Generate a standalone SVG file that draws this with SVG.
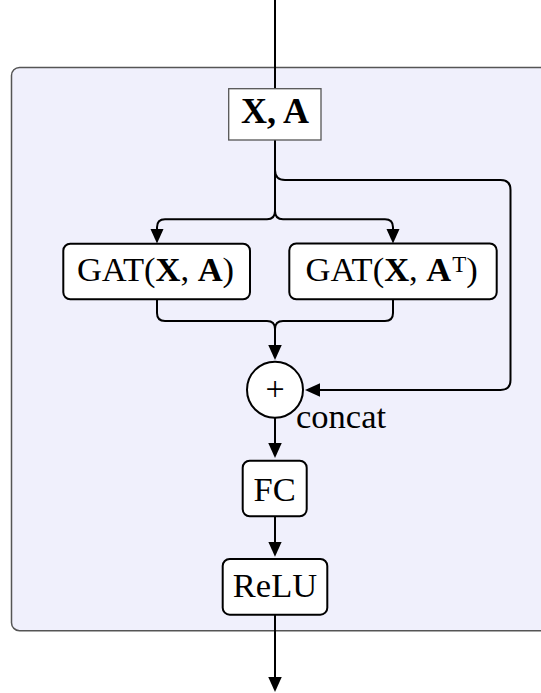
<svg xmlns="http://www.w3.org/2000/svg" width="541" height="693" viewBox="0 0 541 693">
  <style>
    .t { font-family: "Liberation Serif", "Times New Roman", serif; font-size: 34.5px; fill: #000; }
    .b { font-weight: bold; }
    .node { fill: #fff; stroke: #000; stroke-width: 2; }
    .plain { fill: #fff; stroke: #555; stroke-width: 1.3; }
    .wire { fill: none; stroke: #000; stroke-width: 2; }
    .arrow { marker-end: url(#head); }
  </style>
  <defs>
    <marker id="head" markerUnits="userSpaceOnUse" markerWidth="16" markerHeight="14" refX="12" refY="6.75" orient="auto">
      <path d="M0,0 L15,6.75 L0,13.5 z" fill="#000"/>
    </marker>
  </defs>

  <!-- module frame -->
  <rect id="module" x="11.5" y="67.5" width="570" height="563.2" rx="8" fill="#f0f0fc" stroke="#555" stroke-width="1.5"/>

  <g id="connectors">
    <path class="wire" d="M275,0 V88.7"/>
    <path class="wire arrow" d="M275,140 V211 Q275,219.3 267,219.3 H165 Q157,219.3 157,227.3 V240.5"/>
    <path class="wire arrow" d="M275,211 Q275,219.3 283,219.3 H385 Q393,219.3 393,227.3 V240.5"/>
    <path class="wire arrow" d="M275,170 Q275,180 285,180 H500.5 Q510.5,180 510.5,190 V380 Q510.5,390 500.5,390 H308"/>
    <path class="wire arrow" d="M157,299.3 V313 Q157,321 165,321 H267 Q275,321 275,329 V357"/>
    <path class="wire" d="M393,299.3 V313 Q393,321 385,321 H283 Q275,321 275,329"/>
    <path class="wire arrow" d="M275,418 V455"/>
    <path class="wire arrow" d="M275,516.3 V553.7"/>
    <path class="wire arrow" d="M275,614.7 V689"/>
  </g>

  <g id="input">
    <rect class="plain" x="228.7" y="88.7" width="92.3" height="51.3"/>
    <text class="t b" x="275" y="123.3" text-anchor="middle" style="font-size:36px">X, A</text>
  </g>

  <g id="gat">
    <rect class="node" x="63.3" y="243.7" width="186.7" height="55.6" rx="7"/>
    <text class="t" x="155.5" y="281" text-anchor="middle">GAT(<tspan class="b">X</tspan>, <tspan class="b">A</tspan>)</text>
  </g>

  <g id="gat-transpose">
    <rect class="node" x="289.3" y="243.5" width="207.4" height="55.8" rx="7"/>
    <text class="t" x="391.7" y="281" text-anchor="middle">GAT(<tspan class="b">X</tspan>, <tspan class="b">A</tspan><tspan dx="1" dy="-9" style="font-size:23px">T</tspan><tspan dy="9">)</tspan></text>
  </g>

  <g id="concat">
    <circle class="node" cx="275" cy="389.7" r="28"/>
    <text class="t" x="275" y="399.5" text-anchor="middle" style="font-size:34px">+</text>
    <text class="t" x="296" y="428.3">concat</text>
  </g>

  <g id="fc">
    <rect class="node" x="242.7" y="460.7" width="64" height="55.6" rx="7"/>
    <text class="t" x="274.7" y="501" text-anchor="middle">FC</text>
  </g>

  <g id="relu">
    <rect class="node" x="222.7" y="559" width="104.6" height="55.7" rx="7"/>
    <text class="t" x="275" y="597.3" text-anchor="middle">ReLU</text>
  </g>
</svg>
